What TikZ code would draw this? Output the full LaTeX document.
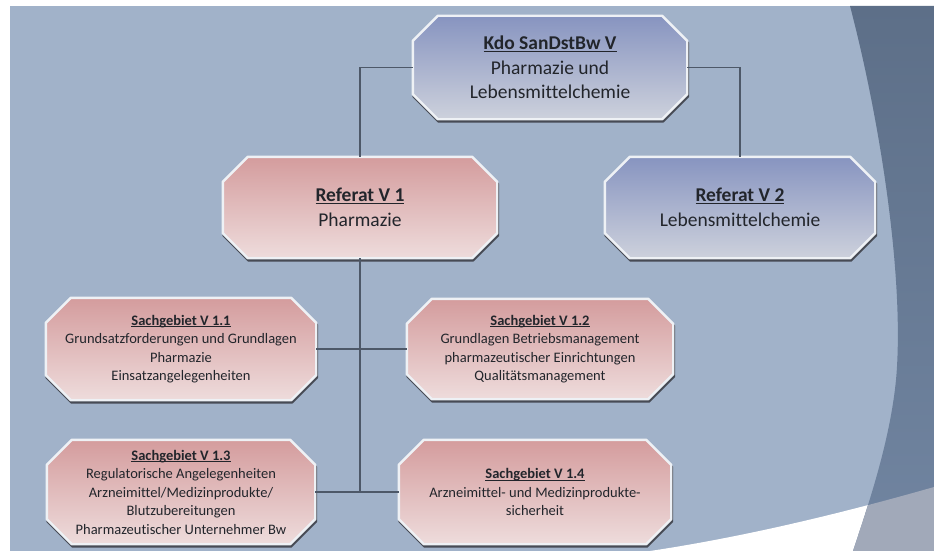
\documentclass[tikz,border=0pt]{standalone}
\usepackage{fontspec}
\setmainfont[Ligatures=NoCommon]{Carlito}
\newcommand\myul[1]{\setbox0\hbox{#1}\rlap{\rule[-2.4pt]{\wd0}{1.1pt}}\box0}
\definecolor{bgblue}{HTML}{A1B2C9}
\definecolor{darkA}{HTML}{5D6F88}
\definecolor{darkB}{HTML}{7185A1}
\definecolor{swgray}{HTML}{A1A9B9}
\definecolor{pinkT}{HTML}{D49C9D}
\definecolor{pinkM}{HTML}{DDB1B1}
\definecolor{pinkB}{HTML}{EEDCDC}
\definecolor{blueT}{HTML}{8794C0}
\definecolor{blueM}{HTML}{A9B3CD}
\definecolor{blueB}{HTML}{CDD1DC}
\definecolor{rimc}{HTML}{EEF1F5}
\definecolor{shadc}{HTML}{474B55}
\definecolor{linec}{HTML}{4D5868}
\definecolor{txtc}{HTML}{22252B}
\pgfdeclarelayer{bglayer}
\pgfdeclarelayer{boxlayer}
\pgfsetlayers{bglayer,boxlayer,main}
\newcommand\octo[4]{%
  \path[fill=shadc, draw=shadc, line width=2.4pt, line join=round,
        transform canvas={shift={(0.8pt,-2.3pt)}}]
    ([xshift=25pt]#1.north west) -- ([xshift=-25pt]#1.north east) -- ([yshift=-25pt]#1.north east) -- ([yshift=25pt]#1.south east) -- ([xshift=-25pt]#1.south east) -- ([xshift=25pt]#1.south west) -- ([yshift=25pt]#1.south west) -- ([yshift=-25pt]#1.north west) -- cycle;
  \path[top color=#2, middle color=#3, bottom color=#4, draw=rimc, line width=2.4pt, line join=round]
    ([xshift=25pt]#1.north west) -- ([xshift=-25pt]#1.north east) -- ([yshift=-25pt]#1.north east) -- ([yshift=25pt]#1.south east) -- ([xshift=-25pt]#1.south east) -- ([xshift=25pt]#1.south west) -- ([yshift=25pt]#1.south west) -- ([yshift=-25pt]#1.north west) -- cycle;
}
\tikzset{
  box/.style={rectangle, inner sep=0pt, align=center, text=txtc},
  bigtxt/.style={font=\fontsize{19.5}{24.5}\selectfont},
  smalltxt/.style={font=\fontsize{14.5}{18.5}\selectfont},
  conn/.style={draw=linec, line width=1.3pt}
}
\begin{document}
\begin{tikzpicture}[x=1pt, y=-1pt]
\useasboundingbox (0,0) rectangle (939,551);
\begin{pgfonlayer}{bglayer}
  \fill[bgblue] (10,6) rectangle (934,551);
  \fill[white] (650,551) .. controls (750,536) and (850,511) .. (934,487) -- (934,551) -- cycle;
  \path[top color=darkA, bottom color=darkB]
    (850,6) .. controls (880,120) and (905,280) .. (896,380) .. controls (890,440) and (870,500) .. (853,551) -- (934,551) -- (934,6) -- cycle;
  \begin{scope}
    \clip (850,6) .. controls (880,120) and (905,280) .. (896,380) .. controls (890,440) and (870,500) .. (853,551) -- (934,551) -- (934,6) -- cycle;
    \fill[swgray] (650,551) .. controls (750,536) and (850,511) .. (934,487) -- (934,551) -- cycle;
  \end{scope}
\end{pgfonlayer}

\node[box, bigtxt, minimum width=274pt, minimum height=103pt] (top) at (550,67.5)
  {\myul{\textbf{Kdo SanDstBw V}}\\Pharmazie und\\Lebensmittelchemie};
\node[box, bigtxt, minimum width=274pt, minimum height=101pt] (ref1) at (360,207.5)
  {\myul{\textbf{Referat V 1}}\\[1pt]Pharmazie};
\node[box, bigtxt, minimum width=270pt, minimum height=101pt] (ref2) at (740,207.5)
  {\myul{\textbf{Referat V 2}}\\[1pt]Lebensmittelchemie};
\node[box, smalltxt, minimum width=270pt, minimum height=102pt] (s11) at (181,349)
  {\myul{\textbf{Sachgebiet V 1.1}}\\Grundsatzforderungen und Grundlagen\\Pharmazie\\Einsatzangelegenheiten};
\node[box, smalltxt, minimum width=266pt, minimum height=100pt] (s12) at (540,349)
  {\myul{\textbf{Sachgebiet V 1.2}}\\Grundlagen Betriebsmanagement\\pharmazeutischer Einrichtungen\\Qualitätsmanagement};
\node[box, smalltxt, minimum width=268pt, minimum height=104pt] (s13) at (181,492)
  {\myul{\textbf{Sachgebiet V 1.3}}\\Regulatorische Angelegenheiten\\Arzneimittel/Medizinprodukte/\\Blutzubereitungen\\Pharmazeutischer Unternehmer Bw};
\node[box, smalltxt, minimum width=272pt, minimum height=104pt] (s14) at (535,492)
  {\myul{\textbf{Sachgebiet V 1.4}}\\Arzneimittel- und Medizinprodukte-\\sicherheit};

\begin{pgfonlayer}{boxlayer}
  \octo{top}{blueT}{blueM}{blueB}
  \octo{ref2}{blueT}{blueM}{blueB}
  \octo{ref1}{pinkT}{pinkM}{pinkB}
  \octo{s11}{pinkT}{pinkM}{pinkB}
  \octo{s12}{pinkT}{pinkM}{pinkB}
  \octo{s13}{pinkT}{pinkM}{pinkB}
  \octo{s14}{pinkT}{pinkM}{pinkB}
\end{pgfonlayer}

\coordinate (j2) at (ref1.south |- s13.east);
\draw[conn] (top.west) -| (ref1.north);
\draw[conn] (top.east) -| (ref2.north);
\draw[conn] (ref1.south) -- (j2);
\draw[conn] (s11.east) -- (s12.west);
\draw[conn] (s13.east) -- (s14.west);
\end{tikzpicture}
\end{document}
